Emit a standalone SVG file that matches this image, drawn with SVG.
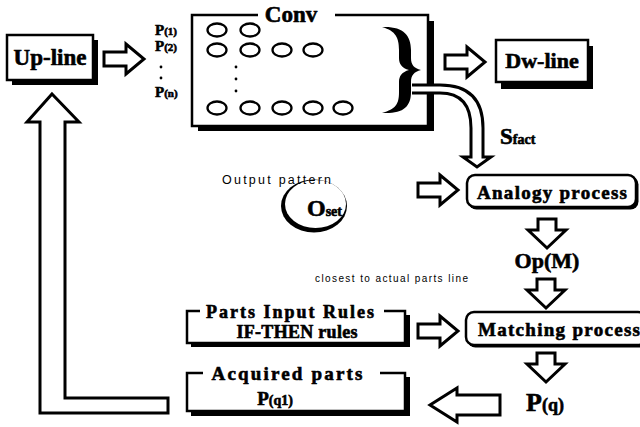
<svg xmlns="http://www.w3.org/2000/svg" xmlns:xlink="http://www.w3.org/1999/xlink" width="640" height="427" viewBox="0 0 640 427">
<style>
.box{fill:#fff;stroke:#000;stroke-width:2.5}
.sh{fill:#000}
.ar{fill:#fff;stroke:#000;stroke-width:3;stroke-linejoin:miter}
.ov{fill:#fff;stroke:#000;stroke-width:2.3}
.ln{fill:none;stroke:#000;stroke-width:2.5}
.hv{stroke:#000;stroke-width:0.6}
</style>
<defs>
<path id="arR" d="M0 -7 H22 V-15 L40 0 L22 15 V7 H0 Z"/>
<path id="arD" d="M-9 0 H9 V11 H19 L0 29 L-19 11 H-9 Z"/>
</defs>
<rect width="640" height="427" fill="#fff"/>

<g id="connectors">
  <path class="ar" d="M52 94 L79 122 L65 122 L65 398 L168 398 L168 413 L40 413 L40 122 L27 122 Z"/>
  <use xlink:href="#arR" class="ar" transform="translate(104,59)"/>
  <use xlink:href="#arR" class="ar" transform="translate(445,62)"/>
  <use xlink:href="#arR" class="ar" transform="translate(418,190)"/>
  <use xlink:href="#arR" class="ar" transform="translate(418,331)"/>
  <use xlink:href="#arD" class="ar" transform="translate(547,219)"/>
  <use xlink:href="#arD" class="ar" transform="translate(546,279)"/>
  <use xlink:href="#arD" class="ar" transform="translate(546,353)"/>
  <path class="ar" d="M500 395 H457 V388 L430 405 L457 422 V415 H500 Z"/>
</g>

<g font-family="'Liberation Serif', 'DejaVu Serif', serif" font-weight="bold" fill="#000">

<g id="upline">
  <rect class="sh" x="12" y="40" width="86" height="45"/>
  <rect class="box" x="7" y="35" width="86" height="45"/>
  <text class="hv" x="50" y="65" font-size="23" text-anchor="middle">Up-line</text>
</g>

<g id="plabels">
  <text class="hv" x="155" y="35" font-size="15">P<tspan font-size="11">(1)</tspan></text>
  <text class="hv" x="155" y="51" font-size="15">P<tspan font-size="11">(2)</tspan></text>
  <circle cx="161" cy="67" r="1.4"/>
  <circle cx="161" cy="78" r="1.4"/>
  <text class="hv" x="155" y="97" font-size="15">P<tspan font-size="11">(n)</tspan></text>
</g>

<g id="conv">
  <rect class="sh" x="198" y="21" width="236" height="110"/>
  <rect x="192" y="15" width="236" height="111" fill="#fff"/>
  <path class="ln" d="M258 15 H192 V126 H428 V15 H335"/>
  <text class="hv" x="291" y="22" font-size="23" text-anchor="middle">Conv</text>
  <g class="ov">
    <ellipse cx="217" cy="30" rx="9.5" ry="6.5"/>
    <ellipse cx="250" cy="30" rx="9.5" ry="6.5"/>
    <ellipse cx="217" cy="50" rx="9.5" ry="6.5"/>
    <ellipse cx="250" cy="50" rx="9.5" ry="6.5"/>
    <ellipse cx="282" cy="50" rx="9.5" ry="6.5"/>
    <ellipse cx="313" cy="50" rx="9.5" ry="6.5"/>
    <ellipse cx="217" cy="108" rx="9.5" ry="6.5"/>
    <ellipse cx="250" cy="108" rx="9.5" ry="6.5"/>
    <ellipse cx="282" cy="108" rx="9.5" ry="6.5"/>
    <ellipse cx="313" cy="108" rx="9.5" ry="6.5"/>
    <ellipse cx="343" cy="108" rx="9.5" ry="6.5"/>
  </g>
  <circle cx="236" cy="67" r="1.4"/>
  <circle cx="236" cy="79" r="1.4"/>
  <circle cx="236" cy="91" r="1.4"/>
  <path fill="#000" d="M382 27 C403 26 411 35 411 50 L411 58 C411 65 414 68 421 70 C414 72 411 75 411 82 L411 92 C411 107 403 114 382 113 C396 109 399 104 399 92 L399 82 C399 76 402 72 409 70 C402 68 399 64 399 58 L399 50 C399 38 396 31 382 27 Z"/>
</g>

<g id="sfact">
  <path class="ar" stroke-width="2.5" d="M412 85 L440 85 Q483 85 483 128 L483 157 L491 157 L477 167 L463 157 L471 157 L471 128 Q471 93 440 93 L412 93"/>
  <text class="hv" x="500" y="144" font-size="23">S<tspan font-size="14">fact</tspan></text>
</g>

<g id="dwline">
  <rect class="sh" x="501" y="46" width="92" height="43"/>
  <rect class="box" x="496" y="40" width="92" height="42"/>
  <text class="hv" x="542" y="68" font-size="22" text-anchor="middle">Dw-line</text>
</g>

<g id="oset">
  <ellipse cx="314" cy="206" rx="33" ry="26.5" fill="#000"/>
  <ellipse cx="315.5" cy="204" rx="30.5" ry="24" fill="#fff"/>
  <text x="222" y="184" font-size="12.5" font-weight="normal" font-family="'Liberation Sans', Arial, sans-serif" textLength="109" lengthAdjust="spacing">Output pattern</text>
  <text class="hv" x="307" y="216" font-size="24">O<tspan font-size="14">set</tspan></text>
</g>

<g id="analogy">
  <rect x="468.5" y="176.5" width="170" height="33" rx="8" fill="#000"/>
  <rect class="box" x="467" y="175" width="169" height="32" rx="8"/>
  <text class="hv" x="477" y="199" font-size="19" textLength="150" lengthAdjust="spacing">Analogy process</text>
</g>

<g id="opm">
  <text class="hv" x="547" y="268" font-size="22" text-anchor="middle">Op(M)</text>
  <text x="315" y="282" font-size="10" font-weight="normal" font-family="'Liberation Sans', Arial, sans-serif" textLength="153" lengthAdjust="spacing">closest to actual parts line</text>
</g>

<g id="matching">
  <rect x="467.5" y="313.5" width="180" height="34" rx="8" fill="#000"/>
  <rect class="box" x="466" y="312" width="180" height="33" rx="8"/>
  <text class="hv" x="478" y="336" font-size="19" textLength="162" lengthAdjust="spacing">Matching process</text>
</g>

<g id="parts">
  <rect class="sh" x="191" y="315" width="219" height="32"/>
  <rect x="187" y="311" width="218" height="32" fill="#fff"/>
  <path class="ln" d="M200 311 H187 V343 H405 V311 H384"/>
  <text class="hv" x="290" y="318" font-size="18" text-anchor="middle" textLength="168" lengthAdjust="spacing">Parts Input Rules</text>
  <text class="hv" x="297" y="338" font-size="18" text-anchor="middle" textLength="121" lengthAdjust="spacing">IF-THEN rules</text>
</g>

<g id="acquired">
  <rect class="sh" x="191" y="377" width="219" height="39"/>
  <rect x="187" y="373" width="218" height="38" fill="#fff"/>
  <path class="ln" d="M203 373 H187 V411 H405 V373 H380"/>
  <text class="hv" x="287" y="380" font-size="19" text-anchor="middle" textLength="151" lengthAdjust="spacing">Acquired parts</text>
  <text class="hv" x="275" y="405" font-size="19" text-anchor="middle">P<tspan font-size="14">(q1)</tspan></text>
</g>

<g id="pq">
  <text class="hv" x="545" y="411" font-size="26" text-anchor="middle">P<tspan font-size="18">(q)</tspan></text>
</g>

</g>
</svg>
